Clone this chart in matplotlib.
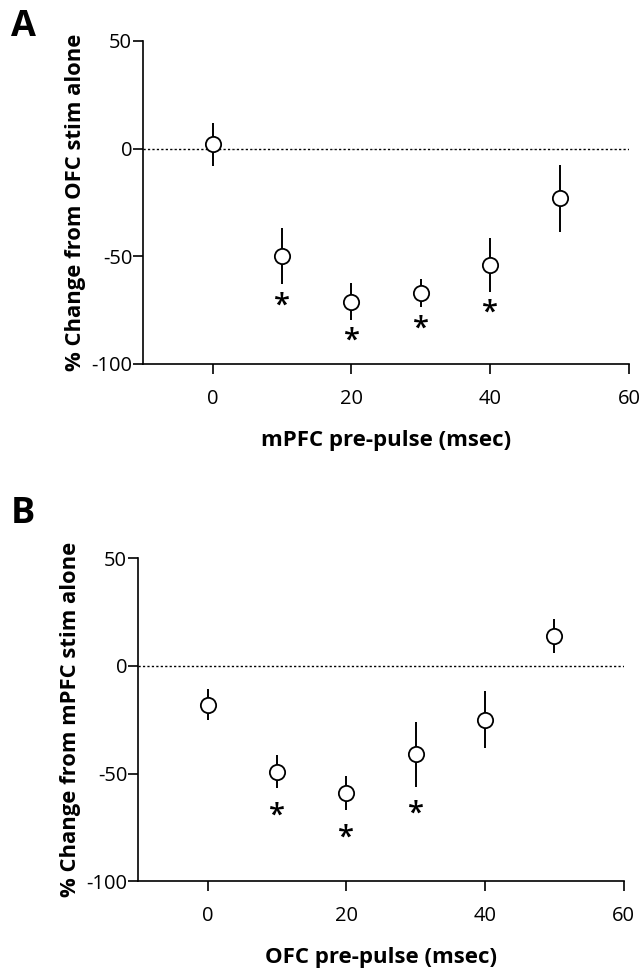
import matplotlib
matplotlib.use("Agg")
import matplotlib.pyplot as plt
import numpy as np

plt.rcParams['font.family'] = ['Open Sans', 'DejaVu Sans']
plt.rcParams['axes.unicode_minus'] = False

# Pre-pulse intervals (msec)
delays = [0, 10, 20, 30, 40, 50]

# Panel A: mPFC pre-pulse, % change from OFC stim alone
mean_a = [2, -50, -71, -67, -54, -23]
sem_a = [10, 13, 8.5, 6.7, 12.6, 15.5]
sig_a = [False, True, True, True, True, False]

# Panel B: OFC pre-pulse, % change from mPFC stim alone
mean_b = [-18, -49, -59, -41, -25, 14]
sem_b = [7.2, 7.5, 8, 15, 13.3, 8]
sig_b = [False, True, True, True, False, False]

x_ticks = [0, 20, 40, 60]
y_ticks = [-100, -50, 0, 50]

fig = plt.figure(figsize=(6.42, 9.73), dpi=100)
ax_a = fig.add_axes([0.2232, 0.6259, 0.7566, 0.332])
ax_b = fig.add_axes([0.2154, 0.0942, 0.7561, 0.332])


def draw_panel(ax, means, errs, sig, xlabel, ylabel, star_gap):
    ax.axhline(0, color='black', lw=1.0, ls=(0, (1.6, 1.6)), zorder=1)
    ax.errorbar(delays, means, yerr=errs, fmt='o', ms=11, mfc='white',
                mec='black', mew=1.3, ecolor='black', elinewidth=1.4,
                capsize=0, zorder=3)
    for x, m, e, s in zip(delays, means, errs, sig):
        if s:
            ax.text(x, m - e - star_gap, '*', ha='center', va='center',
                    fontsize=21, fontweight='semibold', color='black')
    ax.set_xlim(-10, 60)
    ax.set_ylim(-100, 50)
    ax.set_xticks(x_ticks)
    ax.set_yticks(y_ticks)
    for side in ('top', 'right'):
        ax.spines[side].set_visible(False)
    for side in ('left', 'bottom'):
        ax.spines[side].set_linewidth(1.2)
    ax.tick_params(axis='both', direction='out', length=7, width=1.2,
                   labelsize=14.5, color='black')
    ax.tick_params(axis='y', pad=1)
    ax.tick_params(axis='x', pad=11)
    ax.set_xlabel(xlabel, fontsize=16, fontweight='bold', labelpad=15)
    ax.set_ylabel(ylabel, fontsize=15.8, fontweight='bold', labelpad=4)


draw_panel(ax_a, mean_a, sem_a, sig_a, 'mPFC pre-pulse (msec)',
           '% Change from OFC stim alone', 10)
draw_panel(ax_b, mean_b, sem_b, sig_b, 'OFC pre-pulse (msec)',
           '% Change from mPFC stim alone', 13)

fig.text(23 / 642, 1 - 27 / 973, 'A', fontsize=26, fontweight='bold',
         ha='center', va='center')
fig.text(23 / 642, 1 - 514 / 973, 'B', fontsize=26, fontweight='bold',
         ha='center', va='center')

fig.savefig('out.png', dpi=100)
